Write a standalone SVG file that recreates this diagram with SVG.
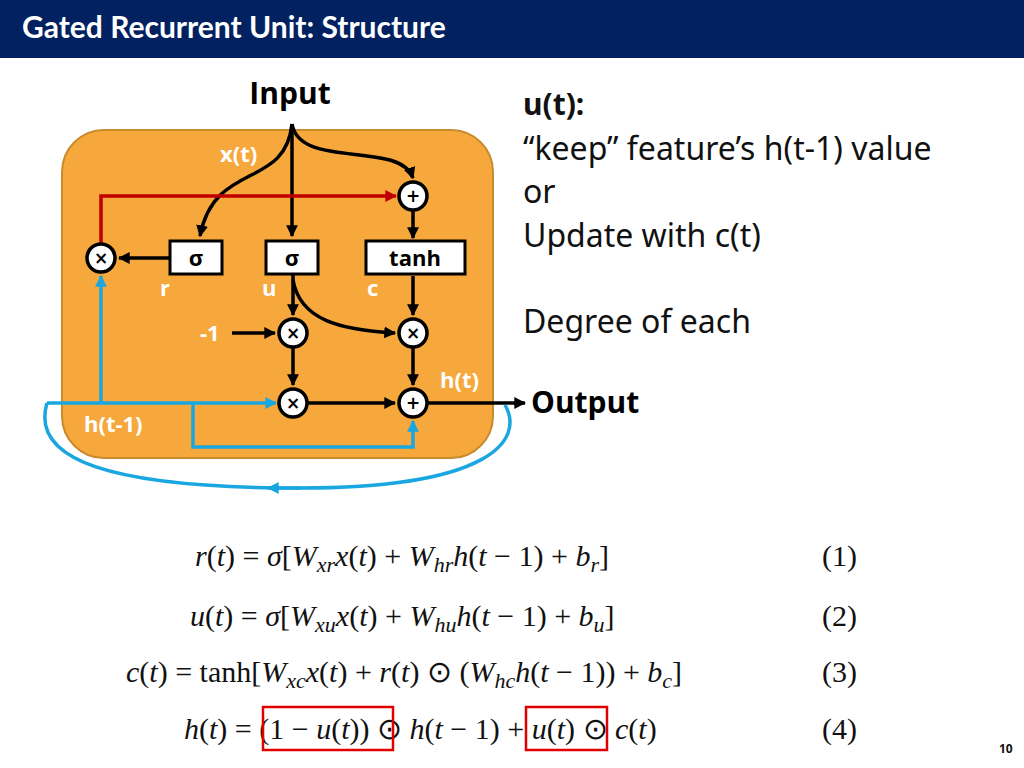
<svg xmlns="http://www.w3.org/2000/svg" width="1024" height="768" viewBox="0 0 1024 768">
<style>
.op{fill:#fff;stroke:#000;stroke-width:3.5}
.ot{font-family:"DejaVu Sans",sans-serif;font-weight:bold;font-size:17px;text-anchor:middle}
.bx{fill:#fff;stroke:#000;stroke-width:3}
.bt{font-family:"Open Sans",sans-serif;font-weight:bold;font-size:22px;text-anchor:middle}
.wl{font-family:"Open Sans",sans-serif;font-weight:bold;font-size:22px;fill:#fff}
.k{fill:none;stroke:#000;stroke-width:3.5}
.b{fill:none;stroke:#1aa6e0;stroke-width:3.5}
.rt{font-family:"Noto Sans","Open Sans",sans-serif;font-size:32px;fill:#111}
.eq{font-family:"Liberation Serif",serif;font-size:30px;fill:#111}
.i{font-style:italic}
</style>
<defs>
<marker id="ak" viewBox="0 0 10 10" refX="9" refY="5" markerWidth="3.4" markerHeight="3.4" orient="auto"><path d="M0,0L10,5L0,10z" fill="#000"/></marker>
<marker id="ab" viewBox="0 0 10 10" refX="9" refY="5" markerWidth="3.4" markerHeight="3.4" orient="auto"><path d="M0,0L10,5L0,10z" fill="#1aa6e0"/></marker>
<marker id="ar" viewBox="0 0 10 10" refX="9" refY="5" markerWidth="3.4" markerHeight="3.4" orient="auto"><path d="M0,0L10,5L0,10z" fill="#c00000"/></marker>
</defs>
<rect width="1024" height="768" fill="#fff"/>
<rect x="0" y="0" width="1024" height="58" fill="#022160"/>
<text x="22" y="38" font-family="Lato,'Open Sans',sans-serif" font-weight="bold" font-size="30" fill="#fff">Gated Recurrent Unit: Structure</text>

<rect x="62" y="130" width="431" height="328" rx="42" fill="#f6a83c" stroke="#c98a2e" stroke-width="2"/>
<text x="290" y="104" font-family="'Open Sans',sans-serif" font-weight="bold" font-size="30" text-anchor="middle">Input</text>
<text x="531" y="413" font-family="'Open Sans',sans-serif" font-weight="bold" font-size="30">Output</text>

<g id="connectors">
<path class="k" d="M292,124 L292,236" marker-end="url(#ak)"/>
<path class="k" d="M292,124 C285,190 215,160 200,236" marker-end="url(#ak)"/>
<path class="k" d="M292,124 C300,170 400,140 413,178" marker-end="url(#ak)"/>
<path class="k" d="M413,211 L413,238" marker-end="url(#ak)"/>
<path class="k" d="M170,258 L119,258" marker-end="url(#ak)"/>
<path class="k" d="M293,275 L293,315" marker-end="url(#ak)"/>
<path class="k" d="M293,280 C300,320 340,330 395,333" marker-end="url(#ak)"/>
<path class="k" d="M413,276 L413,315" marker-end="url(#ak)"/>
<path class="k" d="M232,333 L275,333" marker-end="url(#ak)"/>
<path class="k" d="M293,348 L293,385" marker-end="url(#ak)"/>
<path class="k" d="M413,348 L413,385" marker-end="url(#ak)"/>
<path class="k" d="M308,403 L395,403" marker-end="url(#ak)"/>
<path class="k" d="M428,403 L525,403" marker-end="url(#ak)"/>
<path d="M101,244 L101,196 L396,196" fill="none" stroke="#c00000" stroke-width="3.5" marker-end="url(#ar)"/>
<path class="b" d="M101,403 L101,276" marker-end="url(#ab)"/>
<path class="b" d="M47,403 L276,403" marker-end="url(#ab)"/>
<path class="b" d="M193,403 L193,447 L413,447 L413,421" marker-end="url(#ab)"/>
<path class="b" d="M505,405 C525,440 490,488 300,488 C110,488 30,460 47,403"/>
<path class="b" d="M300,488 L268,488" marker-end="url(#ab)"/>
</g>

<g id="mul_r"><circle class="op" cx="101" cy="258" r="14"/><text class="ot" x="101" y="264">×</text></g>
<g id="sig_r"><rect class="bx" x="170" y="241" width="52" height="33"/><text class="bt" x="196" y="266">σ</text></g>
<g id="sig_u"><rect class="bx" x="266" y="241" width="52" height="33"/><text class="bt" x="292" y="266">σ</text></g>
<g id="tanh"><rect class="bx" x="366" y="241" width="99" height="33"/><text class="bt" x="415" y="266">tanh</text></g>
<g id="add_c"><circle class="op" cx="413" cy="196" r="14"/><text class="ot" x="413" y="202">+</text></g>
<g id="mul_u"><circle class="op" cx="293" cy="333" r="14"/><text class="ot" x="293" y="339">×</text></g>
<g id="mul_c"><circle class="op" cx="413" cy="333" r="14"/><text class="ot" x="413" y="339">×</text></g>
<g id="mul_h"><circle class="op" cx="293" cy="403" r="14"/><text class="ot" x="293" y="409">×</text></g>
<g id="add_h"><circle class="op" cx="413" cy="403" r="14"/><text class="ot" x="413" y="409">+</text></g>

<text class="wl" x="220" y="162">x(t)</text>
<text class="wl" x="160" y="296">r</text>
<text class="wl" x="262" y="296">u</text>
<text class="wl" x="367" y="296">c</text>
<text class="wl" x="200" y="341">-1</text>
<text class="wl" x="440" y="388">h(t)</text>
<text class="wl" x="84" y="432">h(t-1)</text>

<text x="523" y="115" font-family="'Noto Sans',sans-serif" font-weight="bold" font-size="30" fill="#111">u(t):</text>
<text class="rt" x="523" y="160">“keep” feature’s h(t-1) value</text>
<text class="rt" x="523" y="203">or</text>
<text class="rt" x="523" y="247">Update with c(t)</text>
<text class="rt" x="523" y="333">Degree of each</text>

<text class="eq" x="195" y="566"><tspan class="i">r</tspan>(<tspan class="i">t</tspan>) = <tspan class="i">σ</tspan>[<tspan class="i">W</tspan><tspan class="i" font-size="22" dy="6">xr</tspan><tspan class="i" dy="-6">x</tspan>(<tspan class="i">t</tspan>) + <tspan class="i">W</tspan><tspan class="i" font-size="22" dy="6">hr</tspan><tspan class="i" dy="-6">h</tspan>(<tspan class="i">t</tspan> − 1) + <tspan class="i">b</tspan><tspan class="i" font-size="22" dy="6">r</tspan><tspan dy="-6">]</tspan></text>
<text class="eq" x="190" y="626"><tspan class="i">u</tspan>(<tspan class="i">t</tspan>) = <tspan class="i">σ</tspan>[<tspan class="i">W</tspan><tspan class="i" font-size="22" dy="6">xu</tspan><tspan class="i" dy="-6">x</tspan>(<tspan class="i">t</tspan>) + <tspan class="i">W</tspan><tspan class="i" font-size="22" dy="6">hu</tspan><tspan class="i" dy="-6">h</tspan>(<tspan class="i">t</tspan> − 1) + <tspan class="i">b</tspan><tspan class="i" font-size="22" dy="6">u</tspan><tspan dy="-6">]</tspan></text>
<text class="eq" x="126" y="682"><tspan class="i">c</tspan>(<tspan class="i">t</tspan>) = tanh[<tspan class="i">W</tspan><tspan class="i" font-size="22" dy="6">xc</tspan><tspan class="i" dy="-6">x</tspan>(<tspan class="i">t</tspan>) + <tspan class="i">r</tspan>(<tspan class="i">t</tspan>) ⊙ (<tspan class="i">W</tspan><tspan class="i" font-size="22" dy="6">hc</tspan><tspan class="i" dy="-6">h</tspan>(<tspan class="i">t</tspan> − 1)) + <tspan class="i">b</tspan><tspan class="i" font-size="22" dy="6">c</tspan><tspan dy="-6">]</tspan></text>
<text class="eq" x="184" y="739"><tspan class="i">h</tspan>(<tspan class="i">t</tspan>) = (1 − <tspan class="i">u</tspan>(<tspan class="i">t</tspan>)) ⊙ <tspan class="i">h</tspan>(<tspan class="i">t</tspan> − 1) + <tspan class="i">u</tspan>(<tspan class="i">t</tspan>) ⊙ <tspan class="i">c</tspan>(<tspan class="i">t</tspan>)</text>
<rect x="263" y="707" width="130" height="43" fill="none" stroke="#e00000" stroke-width="2.5"/>
<rect x="526" y="707" width="81" height="43" fill="none" stroke="#e00000" stroke-width="2.5"/>
<text class="eq" x="822" y="566">(1)</text>
<text class="eq" x="822" y="626">(2)</text>
<text class="eq" x="822" y="682">(3)</text>
<text class="eq" x="822" y="739">(4)</text>
<text x="999" y="753" font-family="'Open Sans',sans-serif" font-weight="bold" font-size="12" fill="#111">10</text>
</svg>
